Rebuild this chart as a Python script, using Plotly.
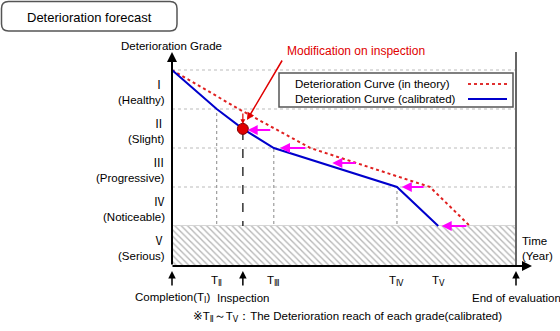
import plotly.graph_objects as go

# ---------------- data ----------------
grade_numerals = ["Ⅰ", "Ⅱ", "Ⅲ", "Ⅳ", "Ⅴ"]
grade_names = ["(Healthy)", "(Slight)", "(Progressive)", "(Noticeable)", "(Serious)"]
grade_levels = [1, 2, 3, 4, 5]

end_year = 50
inspection_year = 10.3
inspection_grade = 2.51

calib_x = [0, 6.5, 10.3, 14.8, 32.7, 38.7]
calib_y = [1, 2, 2.51, 3, 4, 5]
theory_x = [0, 9.7, 20.1, 37.5, 43.3]
theory_y = [1, 2, 3, 4, 5]

reach_labels = ["T<sub>Ⅱ</sub>", "T<sub>Ⅲ</sub>", "T<sub>Ⅳ</sub>", "T<sub>Ⅴ</sub>"]
reach_years = [6.5, 14.8, 32.7, 38.7]
reach_grades = [2, 3, 4, 5]

milestone_labels = ["Completion(T<sub>Ⅰ</sub>)", "Inspection", "End of evaluation"]
milestone_years = [0, 10.3, 50]

shift_y = [2.54, 3, 3.385, 4, 5]
shift_from = [14.5, 19.6, 26.9, 36.8, 43.0]
shift_to = [11.0, 15.7, 23.3, 33.4, 39.2]

legend_names = ["Deterioration Curve (in theory)", "Deterioration Curve (calibrated)"]

# ---------------- layout helpers (pixel -> axis units) ----------------
W, H = 560, 331
X0, SX = 172, 6.88
Y0, SY = 70, 39


def px(p):
    return (p - X0) / SX


def py(p):
    return 1 + (p - Y0) / SY


FONT = "Liberation Sans, Arial, DejaVu Sans, sans-serif"
NUMFONT = "Noto Sans CJK JP"
BOTTOM = py(266)
TOP = py(52)

fig = go.Figure()

# hatched "Serious" zone
fig.add_trace(go.Scatter(
    x=[0, end_year, end_year, 0, 0], y=[5, 5, BOTTOM, BOTTOM, 5],
    mode="lines", fill="toself", line=dict(width=0),
    fillcolor="white",
    fillpattern=dict(shape="\\", fgcolor="#6E6E6E", bgcolor="white", size=4.5, solidity=0.3),
    hoverinfo="skip", showlegend=False))

shapes = []
# horizontal grade lines
for g in grade_levels[:-1]:
    shapes.append(dict(type="line", xref="x", yref="y", x0=0, x1=end_year, y0=g, y1=g,
                       line=dict(color="#BBBBBB", width=1, dash="dot"), layer="below"))
shapes.append(dict(type="line", xref="x", yref="y", x0=0, x1=end_year, y0=5, y1=5,
                   line=dict(color="#AAAAAA", width=1), layer="below"))
# vertical reach lines
for t, g in zip(reach_years, reach_grades):
    shapes.append(dict(type="line", xref="x", yref="y", x0=t, x1=t, y0=BOTTOM, y1=g,
                       line=dict(color="#888888", width=1, dash="dot"), layer="below"))
# inspection dashed line
shapes.append(dict(type="line", xref="x", yref="y", x0=inspection_year, x1=inspection_year,
                   y0=BOTTOM, y1=inspection_grade,
                   line=dict(color="#333333", width=1.5, dash="dash"), layer="below"))
# right border (end of evaluation)
shapes.append(dict(type="line", xref="x", yref="y", x0=end_year, x1=end_year, y0=TOP, y1=BOTTOM,
                   line=dict(color="#666666", width=2)))
# title rounded box
r = 7
x1p, x2p, y1p, y2p = 1.5, 177, 1.5, 31
path = (f"M {px(x1p + r)},{py(y1p)} L {px(x2p - r)},{py(y1p)} Q {px(x2p)},{py(y1p)} {px(x2p)},{py(y1p + r)} "
        f"L {px(x2p)},{py(y2p - r)} Q {px(x2p)},{py(y2p)} {px(x2p - r)},{py(y2p)} "
        f"L {px(x1p + r)},{py(y2p)} Q {px(x1p)},{py(y2p)} {px(x1p)},{py(y2p - r)} "
        f"L {px(x1p)},{py(y1p + r)} Q {px(x1p)},{py(y1p)} {px(x1p + r)},{py(y1p)} Z")
shapes.append(dict(type="path", xref="x", yref="y", path=path,
                   line=dict(color="#555555", width=1.5), fillcolor="white"))
# legend box
shapes.append(dict(type="rect", xref="x", yref="y", x0=px(279), x1=px(513), y0=py(73), y1=py(107),
                   line=dict(color="#555555", width=1.5), fillcolor="white"))
shapes.append(dict(type="line", xref="x", yref="y", x0=px(468), x1=px(507), y0=py(84), y1=py(84),
                   line=dict(color="#E03030", width=2, dash="dot")))
shapes.append(dict(type="line", xref="x", yref="y", x0=px(468), x1=px(507), y0=py(99), y1=py(99),
                   line=dict(color="#0000CC", width=2)))

# curves
fig.add_trace(go.Scatter(x=theory_x, y=theory_y, mode="lines", name=legend_names[0],
                         line=dict(color="#E02020", width=2, dash="dot"), showlegend=False))
fig.add_trace(go.Scatter(x=calib_x, y=calib_y, mode="lines", name=legend_names[1],
                         line=dict(color="#0000CC", width=2), showlegend=False))
fig.add_trace(go.Scatter(x=[inspection_year], y=[inspection_grade], mode="markers",
                         marker=dict(size=11, color="#E00000", line=dict(color="#800000", width=1)),
                         showlegend=False))

ann = []
# title
ann.append(dict(x=px(89), y=py(17), text="Deterioration forecast", showarrow=False,
                font=dict(size=13, color="black", family=FONT)))
# axis title
ann.append(dict(x=px(171), y=py(46), text="Deterioration Grade", showarrow=False,
                font=dict(size=11.5, color="black", family=FONT)))
ann.append(dict(x=px(520), y=py(248), text="Time<br>(Year)", showarrow=False, xanchor="left",
                align="left", font=dict(size=11.5, color="black", family=FONT)))
# grade labels
for num, name, g in zip(grade_numerals, grade_names, grade_levels):
    ann.append(dict(x=px(167), y=g + 0.55,
                    text=f"<span style=\"font-family:'{NUMFONT}'\">{num}</span><br>{name}",
                    showarrow=False, xanchor="right", align="right",
                    font=dict(size=11.5, color="black", family=FONT)))
# reach labels
for lab, t in zip(reach_labels, reach_years):
    ann.append(dict(x=t, y=py(281), text=lab, showarrow=False,
                    font=dict(size=11.5, color="black", family=FONT)))
# milestone labels + up arrows
for lab, t in zip(milestone_labels, milestone_years):
    ann.append(dict(x=t, y=py(298), text=lab, showarrow=False,
                    font=dict(size=11.5, color="black", family=FONT)))
    ann.append(dict(x=t, y=py(271), ax=t, ay=py(287), axref="x", ayref="y", text="",
                    showarrow=True, arrowhead=2, arrowsize=1, arrowwidth=1.5, arrowcolor="black"))
# footnote
ann.append(dict(x=px(347), y=py(317),
                text="※T<sub>Ⅱ</sub>～T<sub>Ⅴ</sub>：The Deterioration reach of each grade(calibrated)",
                showarrow=False, font=dict(size=11.5, color="black", family=FONT)))
# axes arrows
ann.append(dict(x=0, y=TOP, ax=0, ay=BOTTOM, axref="x", ayref="y", text="", showarrow=True,
                arrowhead=2, arrowsize=1, arrowwidth=2, arrowcolor="black"))
ann.append(dict(x=px(532), y=BOTTOM, ax=px(171), ay=BOTTOM, axref="x", ayref="y", text="",
                showarrow=True, arrowhead=2, arrowsize=1, arrowwidth=2, arrowcolor="black"))
# legend texts
for name, yy in zip(legend_names, [84, 99]):
    ann.append(dict(x=px(293), y=py(yy), text=name, showarrow=False, xanchor="left",
                    font=dict(size=11.5, color="black", family=FONT)))
# modification annotation
ann.append(dict(x=px(356), y=py(51), text="Modification on inspection", showarrow=False,
                font=dict(size=12, color="#E00000", family=FONT)))
ann.append(dict(x=px(247), y=py(120), ax=px(283), ay=py(59), axref="x", ayref="y", text="",
                showarrow=True, arrowhead=2, arrowsize=1, arrowwidth=1.5, arrowcolor="#E00000"))
ann.append(dict(x=inspection_year, y=py(124), ax=inspection_year, ay=py(112), axref="x", ayref="y",
                text="", showarrow=True, arrowhead=2, arrowsize=0.8, arrowwidth=1.2,
                arrowcolor="#E00000"))
# shift arrows (theory -> calibrated)
for yy, xf, xt in zip(shift_y, shift_from, shift_to):
    ann.append(dict(x=xt, y=yy, ax=xf, ay=yy, axref="x", ayref="y", text="", showarrow=True,
                    arrowhead=2, arrowsize=1, arrowwidth=2, arrowcolor="#FF00FF"))

fig.update_layout(
    width=W, height=H, autosize=False,
    margin=dict(l=0, r=0, t=0, b=0),
    paper_bgcolor="white", plot_bgcolor="white",
    xaxis=dict(range=[px(0), px(W)], visible=False, fixedrange=True),
    yaxis=dict(range=[py(H), py(0)], visible=False, fixedrange=True),
    shapes=shapes, annotations=ann, showlegend=False,
)

fig.write_html("out.html")
